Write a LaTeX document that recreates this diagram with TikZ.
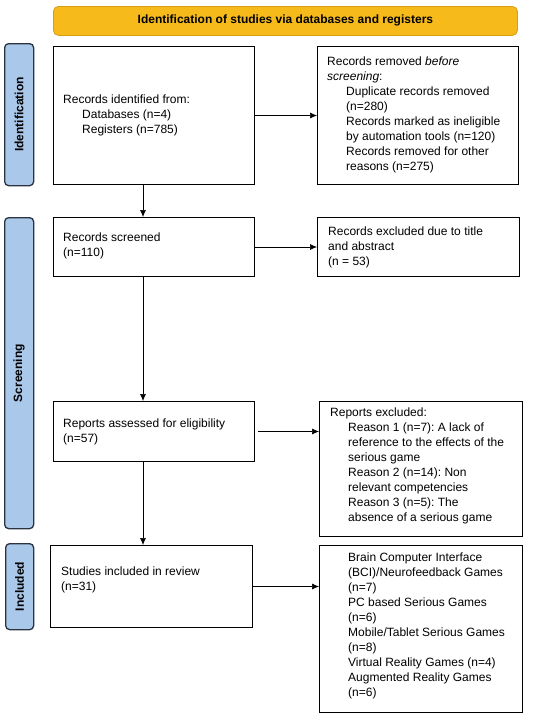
\documentclass[tikz,border=0pt]{standalone}
\usepackage{fontspec}
\setmainfont{Liberation Sans}
\usetikzlibrary{arrows.meta}
\definecolor{bannerfill}{HTML}{F6BB1A}
\definecolor{bannerdraw}{HTML}{D69E12}
\definecolor{sidefill}{HTML}{A9C8EA}
\definecolor{sidedraw}{HTML}{2B3440}
\frenchspacing
\begin{document}
\begin{tikzpicture}[x=1pt,y=-1pt,
  box/.style={draw=black, line width=1pt, fill=white, inner xsep=0pt, inner ysep=0pt,
    anchor=north west},
  txt/.style={anchor=west, align=left, inner sep=0pt, font=\fontsize{12}{15}\selectfont},
  side/.style={draw=sidedraw, line width=1.3pt, fill=sidefill, rounded corners=4pt,
    anchor=north west, inner sep=0pt},
  sidetxt/.style={rotate=90, font=\fontsize{12}{14}\selectfont\bfseries},
  banner/.style={draw=bannerdraw, line width=0.8pt, fill=bannerfill, rounded corners=5pt,
    font=\fontsize{12}{14}\selectfont\bfseries, anchor=north west, inner sep=0pt},
  arr/.style={-{Latex[length=7pt,width=6pt]}, line width=0.6pt}]
\useasboundingbox (0,0) rectangle (550,716);
% banner
\node[banner, minimum width=464pt, minimum height=29pt] (ban) at (53,6) {Identification of studies via databases and registers};
% side labels
\node[side, minimum width=29pt, minimum height=142pt] (sid) at (4,43) {};
\node[sidetxt] (sidt) at (sid.center) {Identification};
\node[side, minimum width=29pt, minimum height=311pt] (sscr) at (4,217) {};
\node[sidetxt] (sscrt) at (sscr.center) {Screening};
\node[side, minimum width=28pt, minimum height=86pt] (sinc) at (5,543) {};
\node[sidetxt] (sinct) at (sinc.center) {Included};
% boxes
\node[box, minimum width=201pt, minimum height=138pt] (b1) at (53,46) {};
\node[txt] (b1t) at (63,115) {Records identified from:\\\hspace{19pt}Databases (n=4)\\\hspace{19pt}Registers (n=785)};
\node[box, minimum width=201pt, minimum height=138pt] (b2) at (317,46) {};
\node[txt] (b2t) at (327,115) {Records removed \textit{before}\\\textit{screening}:\\\hspace{19pt}Duplicate records removed\\\hspace{19pt}(n=280)\\\hspace{19pt}Records marked as ineligible\\\hspace{19pt}by automation tools (n=120)\\\hspace{19pt}Records removed for other\\\hspace{19pt}reasons (n=275)};
\node[box, minimum width=201pt, minimum height=59pt] (b3) at (53,217) {};
\node[txt] (b3t) at (63,246) {Records screened\\(n=110)};
\node[box, minimum width=202pt, minimum height=59pt] (b4) at (317,217) {};
\node[txt] (b4t) at (328,247) {Records excluded due to title\\and abstract\\(n = 53)};
\node[box, minimum width=201pt, minimum height=60pt] (b5) at (53,401) {};
\node[txt] (b5t) at (63,432) {Reports assessed for eligibility\\(n=57)};
\node[box, minimum width=203pt, minimum height=135pt] (b6) at (319,401) {};
\node[txt] (b6t) at (330,466) {Reports excluded:\\\hspace{18pt}Reason 1 (n=7): A lack of\\\hspace{18pt}reference to the effects of the\\\hspace{18pt}serious game\\\hspace{18pt}Reason 2 (n=14): Non\\\hspace{18pt}relevant competencies\\\hspace{18pt}Reason 3 (n=5): The\\\hspace{18pt}absence of a serious game};
\node[box, minimum width=202pt, minimum height=82pt] (b7) at (50,545) {};
\node[txt] (b7t) at (61,580) {Studies included in review\\(n=31)};
\node[box, minimum width=203pt, minimum height=167pt] (b8) at (319,545) {};
\node[txt] (b8t) at (348,626) {Brain Computer Interface\\(BCI)/Neurofeedback Games\\(n=7)\\PC based Serious Games\\(n=6)\\Mobile/Tablet Serious Games\\(n=8)\\Virtual Reality Games (n=4)\\Augmented Reality Games\\(n=6)};
% connectors
\coordinate (vx) at (143,0);
\draw[arr] (b1.east) -- (b1.east -| b2.west);
\draw[arr] (b3.east) -- (b3.east -| b4.west);
\draw[arr, shorten <=3pt] (b5.east) -- (b5.east -| b6.west);
\draw[arr] (b7.east) -- (b7.east -| b8.west);
\draw[arr] (vx |- b1.south) -- (vx |- b3.north);
\draw[arr] (vx |- b3.south) -- (vx |- b5.north);
\draw[arr] (vx |- b5.south) -- (vx |- b7.north);
\end{tikzpicture}
\end{document}
